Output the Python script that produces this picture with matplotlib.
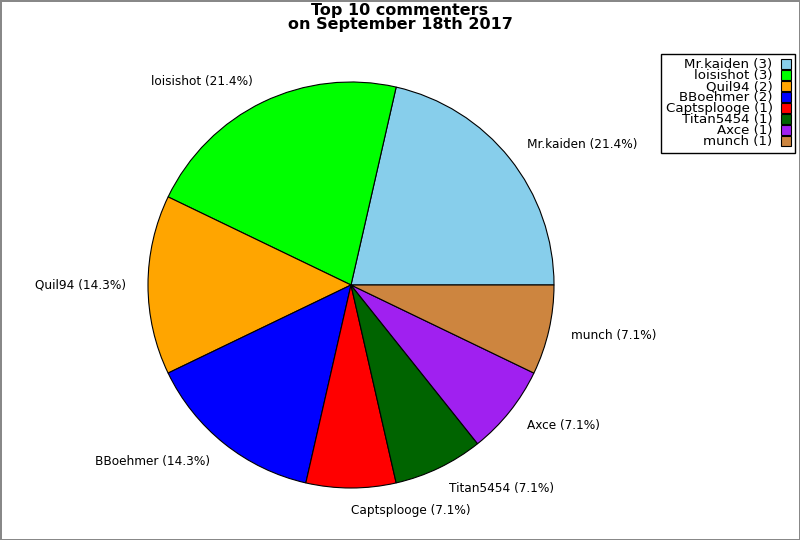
import matplotlib
matplotlib.use("Agg")
import matplotlib.pyplot as plt

names = ["Mr.kaiden", "loisishot", "Quil94", "BBoehmer", "Captsplooge", "Titan5454", "Axce", "munch"]
counts = [3, 3, 2, 2, 1, 1, 1, 1]
colors = ["#87ceeb", "#00ff00", "#ffa500", "#0000ff", "#ff0000", "#006400", "#a020f0", "#cd853f"]

total = sum(counts)
pie_labels = ["{0} ({1:.1f}%)".format(n, 100.0 * c / total) for n, c in zip(names, counts)]
legend_labels = ["{0} ({1})".format(n, c) for n, c in zip(names, counts)]

fig = plt.figure(figsize=(8, 5.4), dpi=100)
fig.patch.set_edgecolor("#888888")
fig.patch.set_linewidth(2)

# pie centre ~(351, 285) px, radius ~203 px
cx, cy, r = 351, 285, 203
ax = fig.add_axes([(cx - r) / 800, (540 - cy - r) / 540, 2 * r / 800, 2 * r / 540])
wedges, texts = ax.pie(
    counts,
    labels=pie_labels,
    colors=colors,
    startangle=0,
    counterclock=True,
    labeldistance=1.11,
    wedgeprops={"edgecolor": "black", "linewidth": 0.8},
    textprops={"fontsize": 8.7},
)
ax.set_xlim(-1, 1)
ax.set_ylim(-1, 1)
ax.set_aspect("equal")

fig.text(0.5, 0.995, "Top 10 commenters\non September 18th 2017",
         ha="center", va="top", fontsize=11.5, fontweight="bold", linespacing=0.95)

# legend rows are packed tightly, like the original
leg = fig.legend(
    wedges, legend_labels,
    loc="upper right", bbox_to_anchor=(795 / 800, 1 - 54 / 540),
    markerfirst=False, fontsize=9.6, labelspacing=-0.15,
    handlelength=0.75, handleheight=0.75, handletextpad=0.6,
    borderpad=0.33, borderaxespad=0, fancybox=False, framealpha=1,
)
leg.get_frame().set_edgecolor("black")
for t in leg.get_texts():
    t.set_ha("right")
leg._legend_box.align = "right"

fig.savefig("out.png", dpi=100)
